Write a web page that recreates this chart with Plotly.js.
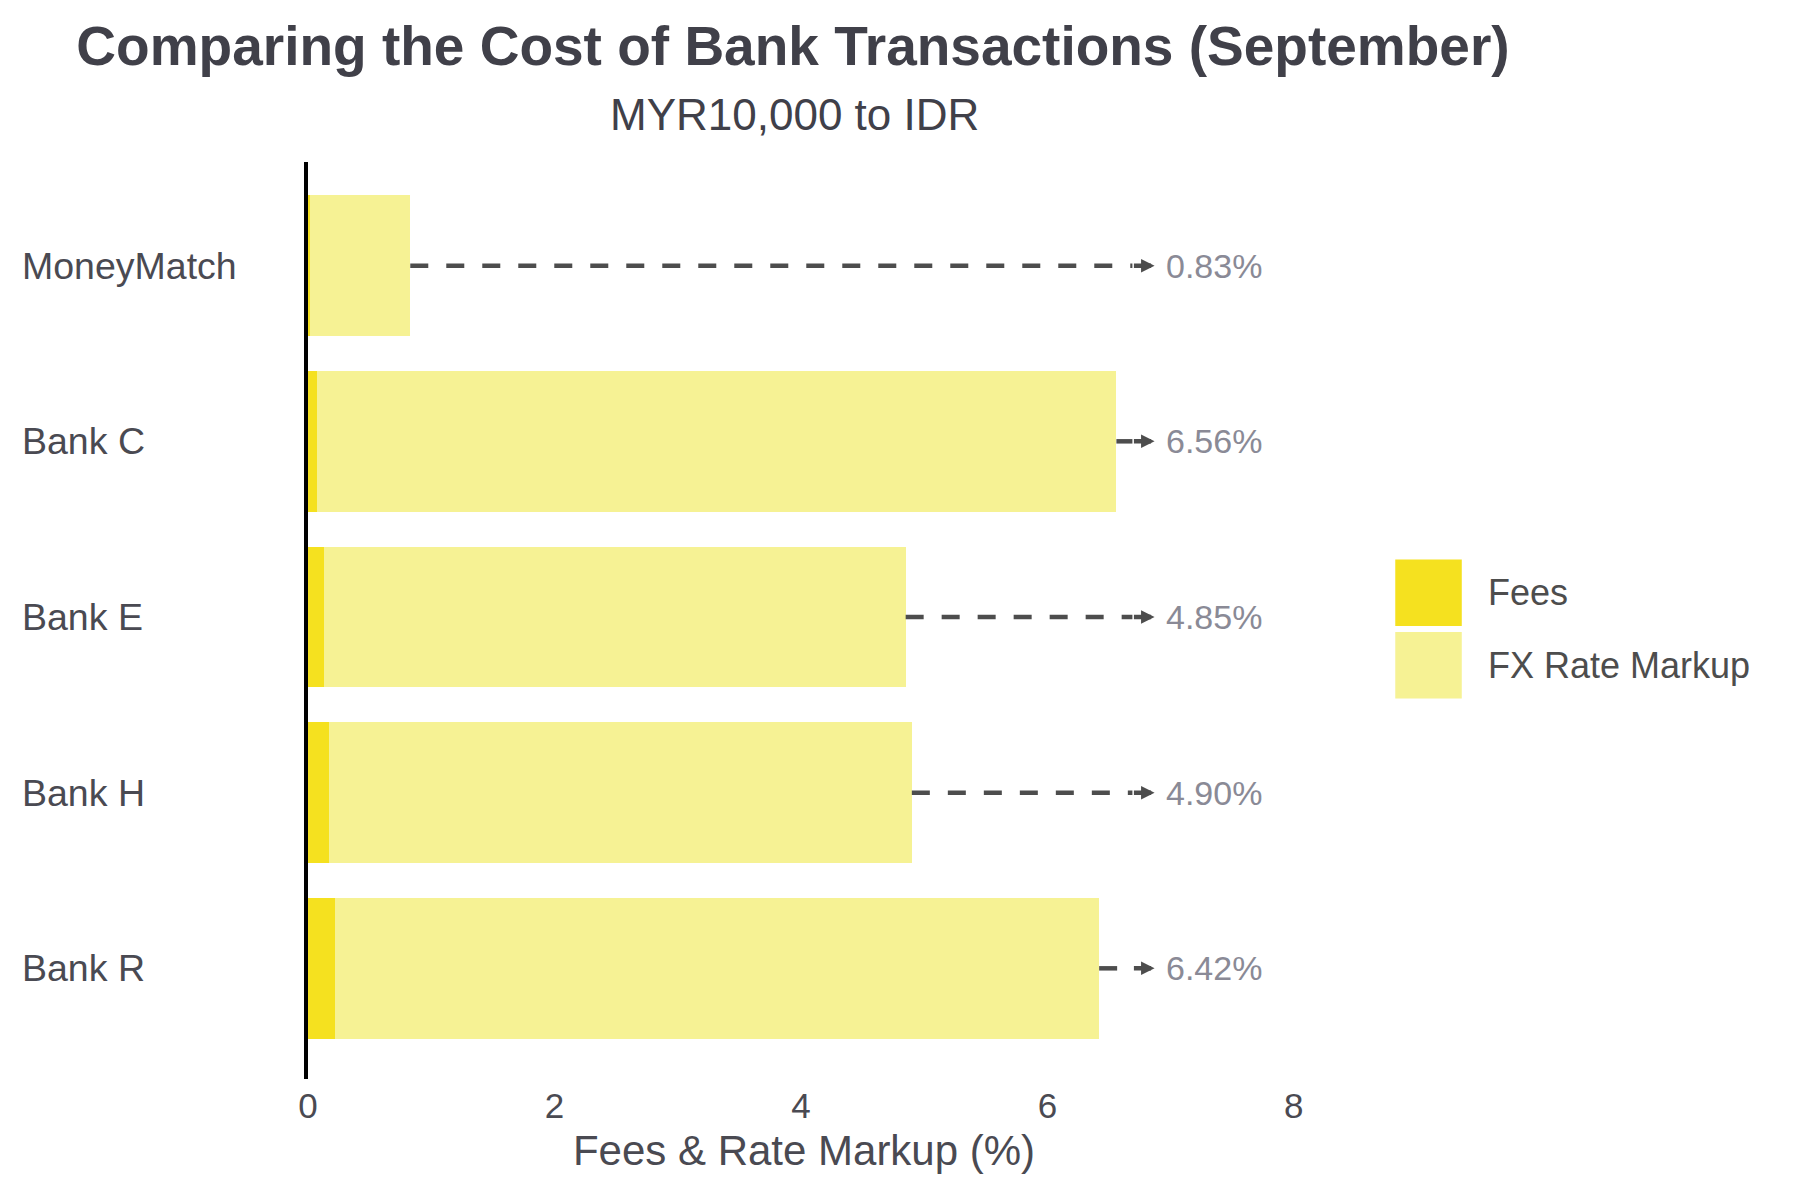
<!DOCTYPE html>
<html>
<head>
<meta charset="utf-8">
<script src="https://cdn.plot.ly/plotly-3.0.1.min.js"></script>
<style>html,body{margin:0;padding:0;background:#fff;}#chart{width:1800px;height:1200px;}</style>
</head>
<body>
<div id="chart"></div>
<script>
// ---- data ----
const banks = ["MoneyMatch", "Bank C", "Bank E", "Bank H", "Bank R"];
const fees = [0.02, 0.07, 0.13, 0.17, 0.22];
const fxMarkup = [0.81, 6.49, 4.72, 4.73, 6.20];
const seriesNames = ["Fees", "FX Rate Markup"];
const xTicks = [0, 2, 4, 6, 8];
const titleText = "Comparing the Cost of Bank Transactions (September)";
const subtitleText = "MYR10,000 to IDR";
const xTitleText = "Fees & Rate Markup (%)";

// ---- styling constants ----
const W = 1800, H = 1200;
const FONT = "Liberation Sans, Arial, Helvetica, sans-serif";
const feeColor = "#F5E11F";
const fxColor = "#F6F294";
const arrowTip = 6.87, headBase = 6.69, labelX = 6.95;
const xMax = 8.05;
const ml = 308, mt = 161.5, mb = 121, pxPerUnit = 123.2;
const pw = xMax * pxPerUnit;
const mr = W - ml - pw;
const ph = H - mt - mb;
const px2x = p => (p - ml) / pw;
const py2y = p => (H - mb - p) / ph;

const totals = banks.map((b, i) => fees[i] + fxMarkup[i]);

const traces = [
  {type: "bar", orientation: "h", name: seriesNames[0], y: banks, x: fees,
   marker: {color: feeColor, line: {width: 0}}, hoverinfo: "x+y"},
  {type: "bar", orientation: "h", name: seriesNames[1], y: banks, x: fxMarkup,
   marker: {color: fxColor, line: {width: 0}}, hoverinfo: "x+y"}
];

// dashed connector lines from bar end to arrow
const lx = [], ly = [];
banks.forEach((b, i) => { lx.push(totals[i], headBase, null); ly.push(b, b, null); });
traces.push({type: "scatter", mode: "lines", x: lx, y: ly, showlegend: false, hoverinfo: "skip",
  line: {color: "#4d4d4d", width: 4.5, dash: "18px,18px"}});

const annotations = [];
banks.forEach((b, i) => {
  // arrow head
  annotations.push({x: arrowTip, y: b, xref: "x", yref: "y", ax: headBase, ay: b, axref: "x", ayref: "y",
    text: "", showarrow: true, arrowhead: 2, arrowsize: 0.6, arrowwidth: 4.5, arrowcolor: "#4d4d4d", standoff: 0});
  // value label
  annotations.push({x: labelX, y: b, xref: "x", yref: "y", xanchor: "left", yanchor: "middle",
    text: totals[i].toFixed(2) + "%", showarrow: false, font: {family: FONT, size: 34, color: "#8a8a96"}});
  // category label (left aligned)
  annotations.push({x: px2x(20), y: b, xref: "paper", yref: "y", xanchor: "left", yanchor: "middle",
    text: b, showarrow: false, font: {family: FONT, size: 37.5, color: "#4a4a52"}});
});

// subtitle
annotations.push({x: px2x(794), y: py2y(114), xref: "paper", yref: "paper", xanchor: "center", yanchor: "middle",
  text: subtitleText, showarrow: false, font: {family: FONT, size: 44, color: "#404049"}});

// legend (large swatches)
const shapes = [];
const legTop = [559.3, 631.7];
const sw = 66.5;
seriesNames.forEach((n, k) => {
  shapes.push({type: "rect", xref: "paper", yref: "paper",
    x0: px2x(1395), x1: px2x(1395 + sw), y0: py2y(legTop[k] + sw), y1: py2y(legTop[k]),
    fillcolor: k === 0 ? feeColor : fxColor, line: {width: 0}});
  annotations.push({x: px2x(1486), y: py2y(legTop[k] + sw / 2), xref: "paper", yref: "paper",
    xanchor: "left", yanchor: "middle", text: n, showarrow: false,
    font: {family: FONT, size: 36, color: "#4d4d4d"}});
});

const layout = {
  width: W, height: H,
  paper_bgcolor: "#fff", plot_bgcolor: "#fff",
  margin: {l: ml, r: mr, t: mt, b: mb, pad: 0, autoexpand: false},
  barmode: "stack", bargap: 0.2,
  showlegend: false,
  font: {family: FONT, color: "#4a4a52"},
  title: {
    text: "<b>" + titleText + "</b>",
    x: 793 / W, xref: "container", xanchor: "center",
    y: 1 - 45.5 / H, yref: "container", yanchor: "middle",
    font: {family: FONT, size: 55, color: "#404049"}
  },
  xaxis: {
    range: [0, xMax], tickvals: xTicks, ticktext: xTicks.map(String),
    showgrid: false, zeroline: false, showline: false, ticks: "",
    tickfont: {family: FONT, size: 35, color: "#4a4a52"},
    ticklabelstandoff: 3,
    title: {text: xTitleText, font: {family: FONT, size: 42, color: "#4a4a52"}, standoff: 11},
    automargin: false, fixedrange: true
  },
  yaxis: {
    type: "category", categoryorder: "array", categoryarray: banks,
    range: [4.63, -0.59], showgrid: false, zeroline: false,
    showline: true, linecolor: "#000", linewidth: 4, ticks: "", showticklabels: false,
    automargin: false, fixedrange: true
  },
  shapes: shapes,
  annotations: annotations
};

Plotly.newPlot("chart", traces, layout, {displayModeBar: false, staticPlot: true});
</script>
</body>
</html>
